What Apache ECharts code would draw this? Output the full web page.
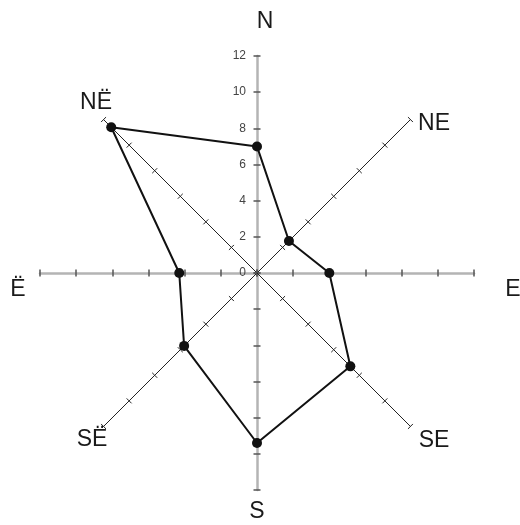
<!DOCTYPE html>
<html>
<head>
<meta charset="utf-8">
<script src="https://cdn.jsdelivr.net/npm/echarts@6/dist/echarts.min.js"></script>
<style>
  html, body { margin: 0; padding: 0; background: #fff; }
  #chart { width: 520px; height: 525px; }
</style>
</head>
<body>
<div id="chart"></div>
<script>
// wind directions, counter-clockwise from north (radar order)
var directions = ['N', 'NË', 'Ë', 'SË', 'S', 'SE', 'E', 'NE'];
var values = [7, 11.4, 4.3, 5.7, 9.4, 7.3, 4, 2.5];
var axisMax = 12;
var axisStep = 2;

// where each direction name sits
var namePos = {
    'N': [265, 22], 'NE': [434, 124], 'E': [513, 290], 'SE': [434, 441],
    'S': [257, 512], 'SË': [92, 440], 'Ë': [18, 290], 'NË': [96, 103]
};

var chart = echarts.init(document.getElementById('chart'), null, { renderer: 'canvas' });

// back = false draws the axis line, labels and one half of the ticks,
// back = true only the other half of the ticks (so they cross the line)
function makeIndicators(back) {
    return directions.map(function (d) {
        var cardinal = d.length == 1;
        var item = {
            name: d,
            min: 0,
            max: axisMax,
            axisLine: {
                show: !back,
                lineStyle: cardinal ? { color: '#b4b4b4', width: 2.5 } : { color: '#222', width: 1 }
            },
            axisTick: {
                show: true,
                length: back ? -3.5 : 3.5,
                lineStyle: cardinal ? { color: '#555', width: 1.5 } : { color: '#222', width: 1 }
            }
        };
        if (d == 'N' && !back) {
            item.axisLabel = { show: true };
        }
        return item;
    });
}

function makeRadar(back) {
    return {
        center: [257, 273],
        radius: 217,
        startAngle: 90,
        splitNumber: axisMax / axisStep,
        indicator: makeIndicators(back),
        axisName: { show: false },
        splitLine: { show: false },
        splitArea: { show: false },
        axisLabel: {
            show: false,
            color: '#444',
            fontSize: 12,
            fontFamily: 'Liberation Sans, Arial, sans-serif',
            margin: 11
        }
    };
}

var graphics = directions.map(function (d) {
    return {
        type: 'text',
        x: namePos[d][0],
        y: namePos[d][1],
        style: {
            text: d,
            fontSize: 23,
            fontFamily: 'Liberation Sans, Arial, sans-serif',
            fill: '#1a1a1a',
            align: 'center',
            verticalAlign: 'middle'
        }
    };
});

var option = {
    backgroundColor: '#fff',
    animation: false,
    graphic: graphics,
    radar: [makeRadar(false), makeRadar(true)],
    series: [{
        type: 'radar',
        radarIndex: 0,
        symbol: 'circle',
        symbolSize: 10,
        itemStyle: { color: '#111' },
        lineStyle: { color: '#111', width: 2 },
        data: [{ value: values, name: 'Wind' }]
    }]
};

chart.setOption(option);
</script>
</body>
</html>
